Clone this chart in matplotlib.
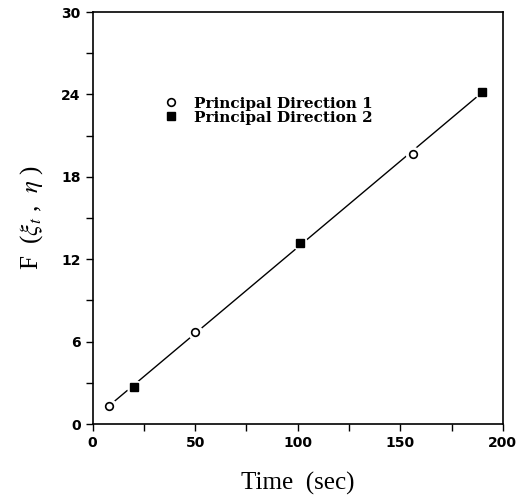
import numpy as np
import matplotlib
matplotlib.use('Agg')
import matplotlib.pyplot as plt
from matplotlib.ticker import MultipleLocator

plt.rcParams['mathtext.fontset'] = 'stix'

# data
t1 = [8, 50, 156]          # principal direction 1 (open circles)
f1 = [1.3, 6.7, 19.7]
t2 = [20, 101, 190]        # principal direction 2 (filled squares)
f2 = [2.7, 13.2, 24.2]

fig = plt.figure(figsize=(5.26, 5.03), dpi=100)
ax = fig.add_axes([0.176, 0.157, 0.78, 0.819])

# fitted straight line through all points
tt = np.array(t1 + t2)
ff = np.array(f1 + f2)
k, b = np.polyfit(tt, ff, 1)
xl = np.array([tt.min(), tt.max()])
ax.plot(xl, k*xl + b, color='black', lw=1.0, zorder=1)

ax.plot(t1, f1, 'o', ms=5.5, mfc='white', mec='black', mew=1.2, ls='none',
        label='Principal Direction 1', zorder=3)
ax.plot(t2, f2, 's', ms=5.5, mfc='black', mec='black', mew=1.0, ls='none',
        label='Principal Direction 2', zorder=3)
# white halos so the line looks broken around the markers
ax.plot(t1 + t2, f1 + f2, 'o', ms=10, color='white', ls='none', zorder=2)

ax.set_xlim(0, 200)
ax.set_ylim(0, 30)
ax.xaxis.set_major_locator(MultipleLocator(50))
ax.xaxis.set_minor_locator(MultipleLocator(25))
ax.yaxis.set_major_locator(MultipleLocator(6))
ax.yaxis.set_minor_locator(MultipleLocator(3))
ax.tick_params(which='both', direction='out', length=5, width=1.0,
               top=False, right=False)
ax.tick_params(which='major', labelsize=10)
for lab in ax.get_xticklabels() + ax.get_yticklabels():
    lab.set_fontweight('bold')
for sp in ax.spines.values():
    sp.set_linewidth(1.2)

ax.set_xlabel('Time  (sec)', family='Liberation Serif', fontsize=18, labelpad=16)
ax.set_ylabel(r'F  ($\xi_t$ ,  $\eta$ )', family='Liberation Serif', fontsize=18, labelpad=12)

leg = ax.legend(loc='upper left', bbox_to_anchor=(0.14, 0.828), frameon=False,
                handletextpad=1.0, labelspacing=0.0, handlelength=1.0,
                prop={'family': 'DejaVu Serif', 'weight': 'bold', 'size': 11})

fig.savefig('out.png', dpi=100)
